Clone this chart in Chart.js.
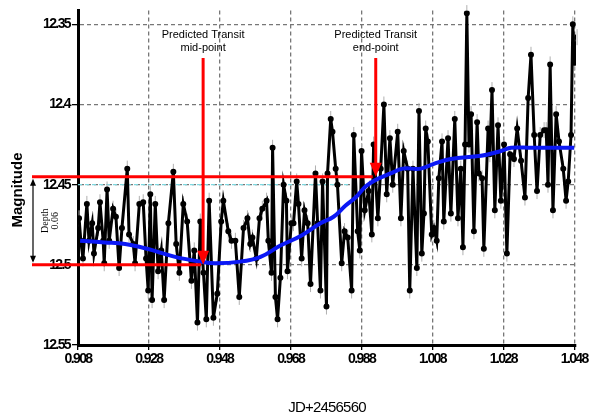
<!DOCTYPE html>
<html>
<head>
<meta charset="utf-8">
<script src="https://cdn.jsdelivr.net/npm/chart.js@4"></script>
<style>
  html, body { margin: 0; padding: 0; background: #fff; }
  #wrap { width: 596px; height: 419px; position: relative; }
</style>
</head>
<body>
<div id="wrap"><canvas id="lightCurve"></canvas></div>
<script>
const times = [
  0.9083, 0.9088, 0.9094, 0.9105, 0.9111, 0.9120, 0.9125, 0.9137, 0.9142, 0.9151,
  0.9154, 0.9162, 0.9168, 0.9179, 0.9187, 0.9196, 0.9204, 0.9219, 0.9224, 0.9236,
  0.9241, 0.9253, 0.9264, 0.9272, 0.9278, 0.9284, 0.9289, 0.9298, 0.9306, 0.9315,
  0.9323, 0.9335, 0.9349, 0.9357, 0.9366, 0.9377, 0.9388, 0.9400, 0.9408, 0.9417,
  0.9425, 0.9434, 0.9442, 0.9450, 0.9462, 0.9473, 0.9484, 0.9490, 0.9504, 0.9513,
  0.9524, 0.9535, 0.9547,
  0.9558, 0.9566, 0.9572, 0.9583, 0.9592, 0.9600, 0.9612, 0.9617, 0.9626, 0.9629,
  0.9637, 0.9643, 0.9651, 0.9660, 0.9668, 0.9671, 0.9682, 0.9688, 0.9697, 0.9702,
  0.9711, 0.9719, 0.9728, 0.9736, 0.9750, 0.9756, 0.9764, 0.9770, 0.9781, 0.9784,
  0.9793, 0.9798, 0.9807, 0.9812, 0.9824, 0.9832, 0.9841, 0.9852, 0.9858, 0.9869,
  0.9875, 0.9880, 0.9889, 0.9900, 0.9909, 0.9914, 0.9926, 0.9934, 0.9943, 0.9951,
  0.9960, 0.9968, 0.9982, 0.9991, 0.9999, 1.0010, 1.0016, 1.0025,
  1.0036, 1.0042, 1.0050, 1.0056, 1.0061, 1.0067, 1.0078, 1.0084, 1.0092, 1.0098,
  1.0107, 1.0112, 1.0124, 1.0132, 1.0143, 1.0152, 1.0160, 1.0166, 1.0172, 1.0177,
  1.0183, 1.0189, 1.0197, 1.0206, 1.0211, 1.0220, 1.0225, 1.0237, 1.0242, 1.0248,
  1.0256, 1.0265, 1.0273, 1.0282, 1.0290, 1.0299, 1.0310, 1.0319, 1.0330, 1.0341,
  1.0350, 1.0358, 1.0367, 1.0375, 1.0384, 1.0395, 1.0401, 1.0406, 1.0412, 1.0420,
  1.0429, 1.0437, 1.0449, 1.0457, 1.0463, 1.0471, 1.0476, 1.0480, 1.0488
];
const mags = [
  12.471, 12.485, 12.496, 12.462, 12.485, 12.474, 12.493, 12.477, 12.461, 12.485,
  12.499, 12.453, 12.485, 12.465, 12.470, 12.502, 12.477, 12.440, 12.481, 12.487,
  12.499, 12.462, 12.461, 12.496, 12.516, 12.456, 12.522, 12.462, 12.504, 12.491,
  12.522, 12.474, 12.442, 12.487, 12.505, 12.462, 12.473, 12.510, 12.491, 12.536,
  12.473, 12.505, 12.534, 12.460, 12.533, 12.518, 12.473, 12.460, 12.479, 12.485,
  12.485, 12.520, 12.477,
  12.471, 12.487, 12.483, 12.496, 12.471, 12.465, 12.460, 12.485, 12.505, 12.427,
  12.520, 12.534, 12.508, 12.450, 12.460, 12.504, 12.474, 12.474, 12.448, 12.462,
  12.496, 12.466, 12.474, 12.512, 12.443, 12.474, 12.516, 12.448, 12.526, 12.443,
  12.409, 12.417, 12.440, 12.450, 12.499, 12.479, 12.483, 12.516, 12.419, 12.479,
  12.491, 12.429, 12.466, 12.454, 12.481, 12.425, 12.471, 12.440, 12.400, 12.456,
  12.421, 12.450, 12.417, 12.471, 12.429, 12.440, 12.516, 12.440,
  12.502, 12.404, 12.493, 12.468, 12.415, 12.423, 12.481, 12.477, 12.485, 12.446,
  12.423, 12.473, 12.421, 12.468, 12.409, 12.471, 12.440, 12.489, 12.425, 12.343,
  12.425, 12.406, 12.479, 12.411, 12.443, 12.446, 12.490, 12.415, 12.431, 12.391,
  12.466, 12.413, 12.460, 12.425, 12.493, 12.431, 12.434, 12.415, 12.435, 12.458,
  12.396, 12.369, 12.419, 12.454, 12.419, 12.416, 12.416, 12.450, 12.375, 12.466,
  12.406, 12.423, 12.440, 12.460, 12.448, 12.419, 12.350, 12.374, 12.358
];

// smoothed trend (blue)
const trendTimes = [
  0.9086, 0.9156, 0.9213, 0.9275, 0.9354, 0.9425, 0.9467, 0.9538, 0.9595, 0.9651,
  0.9708, 0.9764, 0.9801, 0.9835, 0.9863, 0.9892, 0.9920, 0.9962, 0.9996, 1.0047,
  1.0084, 1.0132, 1.0217, 1.0273, 1.0302, 1.0358, 1.0415, 1.0480
];
const trendMags = [
  12.485, 12.486, 12.487, 12.490, 12.495, 12.498, 12.499, 12.498, 12.495, 12.488,
  12.482, 12.474, 12.470, 12.463, 12.458, 12.451, 12.447, 12.443, 12.440, 12.440,
  12.437, 12.434, 12.432, 12.429, 12.427, 12.427, 12.427, 12.427
];

const xTicks = [0.908, 0.928, 0.948, 0.968, 0.988, 1.008, 1.028, 1.048];
const yTicks = [12.35, 12.4, 12.45, 12.5, 12.55];

const transitTop = 12.445;
const transitBottom = 12.5;
const midPoint = 0.9433;
const endPoint = 0.992;
const arrowStart = 12.371;
const errBar = 0.005;

const tickFont = { family: "'Liberation Sans', Arial, sans-serif", size: 14, weight: "bold" };

// 误差棒 + 注释
const extras = {
  id: "extras",
  beforeDraw(chart) {
    const c = chart.ctx;
    c.save();
    c.fillStyle = "#fff";
    c.fillRect(0, 0, chart.width, chart.height);
    c.restore();
    c.letterSpacing = "-1.6px";
  },
  beforeDatasetsDraw(chart) {
    const c = chart.ctx;
    const xs = chart.scales.x, ys = chart.scales.y;
    c.save();
    // cyan dotted reference at 12.45
    c.strokeStyle = "#7fd8e0";
    c.lineWidth = 1.2;
    c.setLineDash([4, 3]);
    c.beginPath();
    c.moveTo(xs.left, ys.getPixelForValue(12.45));
    c.lineTo(xs.getPixelForValue(0.985), ys.getPixelForValue(12.45));
    c.stroke();
    c.setLineDash([]);
    // error bars
    c.strokeStyle = "#b0b0b0";
    c.lineWidth = 1;
    for (let i = 0; i < times.length; i++) {
      const px = xs.getPixelForValue(times[i]);
      c.beginPath();
      c.moveTo(px, ys.getPixelForValue(mags[i] - errBar));
      c.lineTo(px, ys.getPixelForValue(mags[i] + errBar));
      c.stroke();
    }
    c.restore();
  },
  afterDraw(chart) {
    const c = chart.ctx;
    const xs = chart.scales.x, ys = chart.scales.y;
    const yTop = ys.getPixelForValue(transitTop);
    const yBot = ys.getPixelForValue(transitBottom);
    const leftX = 32;
    c.save();
    c.letterSpacing = "0px";
    // red horizontal levels
    c.strokeStyle = "#f00";
    c.lineWidth = 3;
    c.beginPath();
    c.moveTo(leftX, yTop);
    c.lineTo(xs.getPixelForValue(endPoint) - 3, yTop);
    c.moveTo(leftX, yBot);
    c.lineTo(xs.getPixelForValue(midPoint) - 2, yBot);
    c.stroke();

    // red arrows
    function arrow(xv, yv) {
      const px = xs.getPixelForValue(xv);
      const y0 = ys.getPixelForValue(arrowStart);
      const y1 = ys.getPixelForValue(yv);
      c.strokeStyle = "#f00";
      c.fillStyle = "#f00";
      c.lineWidth = 3;
      c.beginPath();
      c.moveTo(px, y0);
      c.lineTo(px, y1 - 12);
      c.stroke();
      c.beginPath();
      c.moveTo(px - 6, y1 - 14);
      c.lineTo(px + 6, y1 - 14);
      c.lineTo(px, y1);
      c.closePath();
      c.fill();
    }
    arrow(midPoint, transitBottom);
    arrow(endPoint, transitTop);

    // labels over arrows
    c.fillStyle = "#000";
    c.font = "11px 'Liberation Sans', Arial, sans-serif";
    c.textAlign = "center";
    c.textBaseline = "middle";
    const mx = xs.getPixelForValue(midPoint);
    const ex = xs.getPixelForValue(endPoint);
    c.fillText("Predicted Transit", mx, 35);
    c.fillText("mid-point", mx, 48);
    c.fillText("Predicted Transit", ex, 35);
    c.fillText("end-point", ex, 48);

    // depth double arrow
    c.strokeStyle = "#000";
    c.fillStyle = "#000";
    c.lineWidth = 1.2;
    c.beginPath();
    c.moveTo(33, yTop + 4);
    c.lineTo(33, yBot - 4);
    c.stroke();
    c.beginPath();
    c.moveTo(33, yTop + 2);
    c.lineTo(30, yTop + 9);
    c.lineTo(36, yTop + 9);
    c.closePath();
    c.fill();
    c.beginPath();
    c.moveTo(33, yBot - 2);
    c.lineTo(30, yBot - 9);
    c.lineTo(36, yBot - 9);
    c.closePath();
    c.fill();

    c.save();
    c.translate(49, (yTop + yBot) / 2);
    c.rotate(-Math.PI / 2);
    c.font = "10px 'Liberation Serif', 'Times New Roman', serif";
    c.fillText("Depth", 0, -4);
    c.fillText("0.06", 0, 6);
    c.restore();

    // axis titles
    c.save();
    c.translate(18, 190);
    c.rotate(-Math.PI / 2);
    c.font = "bold 15px 'Liberation Sans', Arial, sans-serif";
    c.fillText("Magnitude", 0, 0);
    c.restore();

    c.font = "15px 'Liberation Sans', Arial, sans-serif";
    c.letterSpacing = "-0.8px";
    c.fillText("JD+2456560", (xs.left + xs.right) / 2, 408);
    c.restore();
  }
};

const ctx = document.getElementById("lightCurve").getContext("2d");
const lightCurve = new Chart(ctx, {
  type: "line",
  data: {
    datasets: [
      {
        label: "Trend",
        data: trendTimes.map((t, i) => ({ x: t, y: trendMags[i] })),
        borderColor: "#0b18f5",
        borderWidth: 4,
        pointRadius: 0,
        tension: 0.4,
        fill: false,
        order: 1,
      },
      {
        label: "Magnitude",
        data: times.map((t, i) => ({ x: t, y: mags[i] })),
        borderColor: "#000",
        backgroundColor: "#000",
        borderWidth: 3,
        pointRadius: 1.5,
        tension: 0,
        fill: false,
        order: 2,
      },
    ],
  },
  options: {
    responsive: true,
    maintainAspectRatio: false,
    animation: false,
    layout: { padding: { top: 8, right: 20, left: 0, bottom: 0 } },
    scales: {
      x: {
        type: "linear",
        min: 0.908,
        max: 1.0485,
        afterBuildTicks: (s) => { s.ticks = xTicks.map((v) => ({ value: v })); },
        afterFit: (s) => { s.height = 74; },
        ticks: {
          color: "#000",
          font: tickFont,
          padding: 1,
          maxRotation: 0,
          callback: (v) => v.toFixed(3),
        },
        grid: {
          color: "#777",
          lineWidth: 1.3,
          tickColor: "#000",
          tickLength: 5,
        },
        border: { display: true, color: "#000", width: 3, dash: [4, 3] },
      },
      y: {
        reverse: true,
        min: 12.3413,
        max: 12.55,
        afterBuildTicks: (s) => { s.ticks = yTicks.map((v) => ({ value: v })); },
        afterFit: (s) => { s.width = 78; },
        ticks: {
          color: "#000",
          font: tickFont,
          padding: 2,
          callback: (v) => String(parseFloat(v.toFixed(2))),
        },
        grid: {
          color: "#777",
          lineWidth: 1.3,
          tickColor: "#000",
          tickLength: 6,
        },
        border: { display: true, color: "#000", width: 3, dash: [4, 3] },
      },
    },
    plugins: {
      legend: { display: false },
      tooltip: { enabled: false },
    },
  },
  plugins: [extras],
});
</script>
</body>
</html>
